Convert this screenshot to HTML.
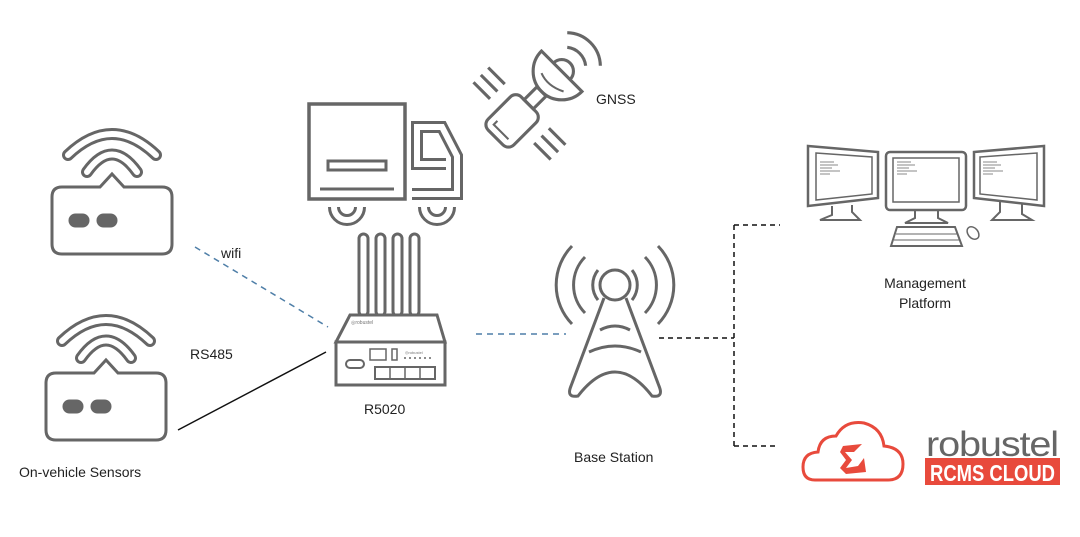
<!DOCTYPE html>
<html><head><meta charset="utf-8"><style>
body{margin:0;width:1080px;height:537px;background:#fff;overflow:hidden}
svg{display:block}
text{font-family:"Liberation Sans",sans-serif;fill:#222}
</style></head><body>
<svg width="1080" height="537" viewBox="0 0 1080 537">
<defs>
<g id="sensor">
  <path d="M-44,2 Q0,-40 44,2" fill="none" stroke="#666" stroke-width="12" stroke-linecap="round"/>
  <path d="M-44,2 Q0,-40 44,2" fill="none" stroke="#fff" stroke-width="6" stroke-linecap="round"/>
  <path d="M-25,19 Q0,-16 25,19" fill="none" stroke="#666" stroke-width="12" stroke-linecap="round"/>
  <path d="M-25,19 Q0,-16 25,19" fill="none" stroke="#fff" stroke-width="6" stroke-linecap="round"/>
  <path d="M-50,34 L-12,34 L0,21 L12,34 L50,34 Q60,34 60,44 L60,91 Q60,101 50,101 L-50,101 Q-60,101 -60,91 L-60,44 Q-60,34 -50,34 Z" fill="#fff" stroke="#666" stroke-width="3"/>
  <rect x="-42" y="62" width="18" height="11" rx="5.5" fill="#666"/>
  <rect x="-14" y="62" width="18" height="11" rx="5.5" fill="#666"/>
</g>
</defs>
<g fill="none" stroke="#666" stroke-width="3">
<use href="#sensor" x="112" y="153"/>
<use href="#sensor" x="106" y="339"/>

<!-- connectors -->
<line x1="195" y1="247" x2="328" y2="327" stroke="#4f7fa8" stroke-width="1.5" stroke-dasharray="6,5"/>
<line x1="178" y1="430" x2="326" y2="352" stroke="#111" stroke-width="1.5"/>
<line x1="476" y1="334" x2="566" y2="334" stroke="#4f7fa8" stroke-width="1.5" stroke-dasharray="6,5"/>
<path d="M659,338 L734,338 M734,225 L734,446 M734,225 L780,225 M734,446 L776,446" stroke="#111" stroke-width="1.5" stroke-dasharray="5,4"/>

<!-- truck -->
<rect x="309" y="104" width="96" height="95" stroke-width="3.5"/>
<rect x="328" y="161" width="58" height="9"/>
<line x1="320" y1="189" x2="394" y2="189"/>
<path d="M412,194 L457,194 L457,156 L442,127 L417,127 L417,164 L446,164" stroke-width="12"/>
<path d="M412,194 L457,194 L457,156 L442,127 L417,127 L417,164 L446,164" stroke="#fff" stroke-width="6"/>
<path d="M334,207 A13,13 0 0 0 360,207" stroke-width="12"/>
<path d="M334,207 A13,13 0 0 0 360,207" stroke="#fff" stroke-width="6"/>
<path d="M424,207 A13,13 0 0 0 450,207" stroke-width="12"/>
<path d="M424,207 A13,13 0 0 0 450,207" stroke="#fff" stroke-width="6"/>

<!-- antennas -->
<rect x="359" y="234" width="9" height="82" rx="4.5"/>
<rect x="376" y="234" width="9" height="82" rx="4.5"/>
<rect x="393" y="234" width="9" height="82" rx="4.5"/>
<rect x="410" y="234" width="9" height="82" rx="4.5"/>
<!-- router -->
<path d="M350,315 L437,315 L445,342 L336,342 Z" fill="#fff"/>
<rect x="336" y="342" width="109" height="43" fill="#fff"/>
<rect x="346" y="360" width="18" height="8" rx="4" stroke-width="2"/>
<rect x="370" y="349" width="16" height="11" stroke-width="1.5"/>
<rect x="392" y="349" width="5" height="11" stroke-width="1.5"/>
<rect x="375" y="367" width="60" height="12" stroke-width="2"/>
<line x1="390" y1="367" x2="390" y2="379" stroke-width="1.5"/>
<line x1="405" y1="367" x2="405" y2="379" stroke-width="1.5"/>
<line x1="420" y1="367" x2="420" y2="379" stroke-width="1.5"/>
<line x1="404" y1="358" x2="432" y2="358" stroke-width="1.5" stroke-dasharray="2,3"/>

<!-- satellite -->
<g transform="translate(536 97) scale(1.3) rotate(45) translate(-530 -100)" stroke-width="2.4">
<rect x="516" y="108" width="28" height="36" rx="6"/>
<path d="M522,134 L522,138 L538,138" stroke-width="1.6"/>
<rect x="525" y="94" width="10" height="14"/>
<path d="M508,72 A22,22 0 0 0 552,72 Z"/>
<path d="M521,72 A9,9 0 0 1 539,72"/>
<path d="M520,84 Q530,88 542,82" stroke-width="1.6"/>
<path d="M540,56 A16,16 0 0 0 520,56"/>
<path d="M548,48 A26,26 0 0 0 512,48"/>
<path d="M488,110 L506,110 M488,118 L506,118 M488,126 L506,126 M554,110 L572,110 M554,118 L572,118 M554,126 L572,126"/>
</g>

<!-- base station -->
<circle cx="615" cy="285" r="15"/>
<path d="M604,298 L571,386 Q566,398 578,396 Q615,348 652,396 Q664,398 659,386 L626,298"/>
<path d="M600,330 Q615,322 630,330"/>
<path d="M589,352 Q615,340 641,352"/>
<path d="M598,270 A24,24 0 0 0 598,300"/>
<path d="M585,257 A40,40 0 0 0 585,313"/>
<path d="M572,246 A56,56 0 0 0 572,324"/>
<path d="M632,270 A24,24 0 0 1 632,300"/>
<path d="M645,257 A40,40 0 0 1 645,313"/>
<path d="M658,246 A56,56 0 0 1 658,324"/>

<!-- monitors -->
<path d="M808,146 L878,152 L878,198 L808,206 Z" stroke-width="2.5"/>
<path d="M816,153 L872,157 L872,194 L816,200 Z" stroke-width="1.5"/>
<path d="M832,206 L832,215 L820,220 L860,220 L852,212 L852,205" stroke-width="2"/>
<rect x="886" y="152" width="80" height="58" rx="4" stroke-width="2.5"/>
<rect x="893" y="158" width="66" height="44" stroke-width="1.5"/>
<path d="M915,210 L915,218 L905,223 L948,223 L938,218 L938,210" stroke-width="2"/>
<path d="M897,227 L955,227 L962,246 L891,246 Z" stroke-width="2"/>
<line x1="896" y1="234" x2="957" y2="234" stroke-width="1"/>
<line x1="894" y1="240" x2="959" y2="240" stroke-width="1"/>
<ellipse cx="973" cy="233" rx="5" ry="7" transform="rotate(-40 973 233)" stroke-width="1.5"/>
<path d="M974,152 L1044,146 L1044,206 L974,198 Z" stroke-width="2.5"/>
<path d="M980,157 L1037,153 L1037,200 L980,194 Z" stroke-width="1.5"/>
<path d="M1000,200 L1000,212 L992,220 L1032,220 L1022,214 L1022,204" stroke-width="2"/>
<g stroke-width="1" stroke="#888">
<path d="M820,162 H834 M820,165 H838 M820,168 H832 M820,171 H840 M820,174 H830"/>
<path d="M897,162 H911 M897,165 H915 M897,168 H909 M897,171 H917 M897,174 H907"/>
<path d="M983,162 H997 M983,165 H1001 M983,168 H995 M983,171 H1003 M983,174 H993"/>
</g>

<!-- RCMS cloud -->
<path d="M815,480 Q803,480 803,467 Q803,453 818,452 Q820,436 836,436 Q845,420 864,423 Q882,428 884,446 Q903,448 903,464 Q903,480 888,480 Z" stroke="#e84a3c" stroke-width="3"/>
<path d="M843,446 L862,444 L854,452 L845,452 L852,460 L846,468 L858,466 L864,458 L866,472 L846,474 L840,468 L846,460 L840,452 Z" fill="#e84a3c" stroke="none"/>
</g>
<rect x="925" y="458" width="135" height="27" fill="#e84a3c"/>
<text x="926" y="456" font-size="35" style="fill:#666;letter-spacing:-1px" textLength="132" lengthAdjust="spacingAndGlyphs">robustel</text>
<text x="930" y="481" font-size="23" style="fill:#fff;font-weight:bold" textLength="125" lengthAdjust="spacingAndGlyphs">RCMS CLOUD</text>

<text x="351" y="324" font-size="5" style="fill:#777">◎robustel</text>
<text x="405" y="354" font-size="4" style="fill:#777">◎robustel</text>

<text x="221" y="258" font-size="14">wifi</text>
<text x="190" y="359" font-size="14">RS485</text>
<text x="19" y="477" font-size="14">On-vehicle Sensors</text>
<text x="364" y="414" font-size="14">R5020</text>
<text x="596" y="104" font-size="14">GNSS</text>
<text x="574" y="462" font-size="14">Base Station</text>
<text x="925" y="288" font-size="14" text-anchor="middle">Management</text>
<text x="925" y="308" font-size="14" text-anchor="middle">Platform</text>
</svg>
</body></html>
